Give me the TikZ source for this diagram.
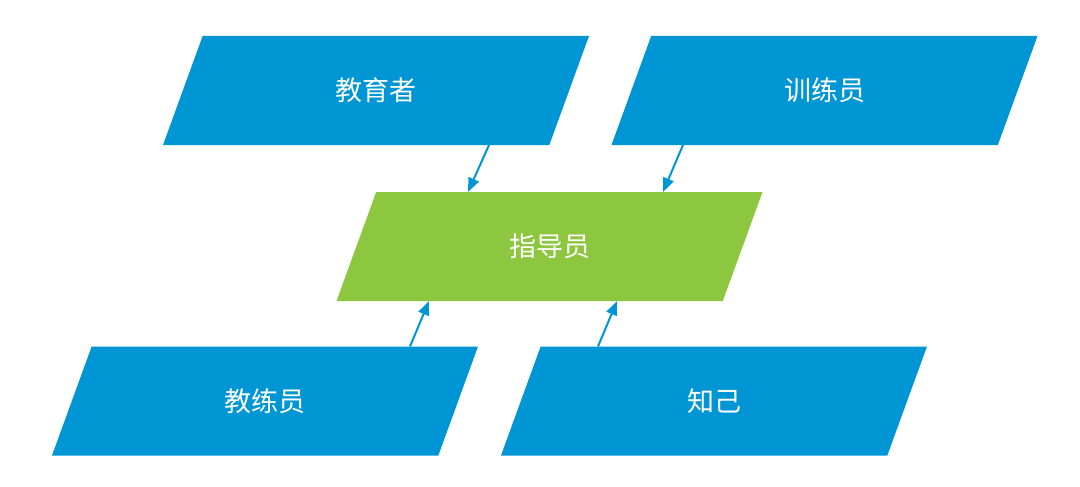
\documentclass[tikz,border=0pt]{standalone}
\usepackage{fontspec}
\newfontfamily\cjk{Noto Sans CJK SC}
\usetikzlibrary{arrows.meta, shapes.geometric, positioning}
\definecolor{RoleBlue}{RGB}{0,150,214}
\definecolor{MentorGreen}{RGB}{141,198,63}
\tikzset{
  >={Triangle[length=14pt,width=11pt]},
  % blocchi a parallelogramma
  role/.style={trapezium,trapezium left angle=70,trapezium right angle=110,
    trapezium stretches body=true,minimum width=426pt,minimum height=109pt,
    text height=20pt,text depth=0pt,inner xsep=0pt,inner ysep=44.5pt,outer sep=0pt,
    fill=RoleBlue,text=white,font=\cjk\fontsize{27}{30}\selectfont},
  role main/.style={role,fill=MentorGreen},
  % connessioni
  link/.style={->,line width=2pt,RoleBlue}
}

\begin{document}
\begin{tikzpicture}[x=1pt,y=-1pt]
  \useasboundingbox (0,0) rectangle (1080,487);
  \node[role] (edu) at (376,90.5) {教育者};
  \node[role] (trainer) at (824.5,90.5) {训练员};
  \node[role main] (mentor) at (549.5,246.5) {指导员};
  \node[role] (coach) at (265,401) {教练员};
  \node[role] (confidant) at (714,401) {知己};
  \draw[link] ([xshift=113]edu.south) -- ([xshift=-81.5]mentor.north);
  \draw[link] ([xshift=-141.5]trainer.south) -- ([xshift=113.5]mentor.north);
  \draw[link] ([xshift=145]coach.north) -- ([xshift=-120.5]mentor.south);
  \draw[link] ([xshift=-116]confidant.north) -- ([xshift=67.5]mentor.south);
\end{tikzpicture}
\end{document}
